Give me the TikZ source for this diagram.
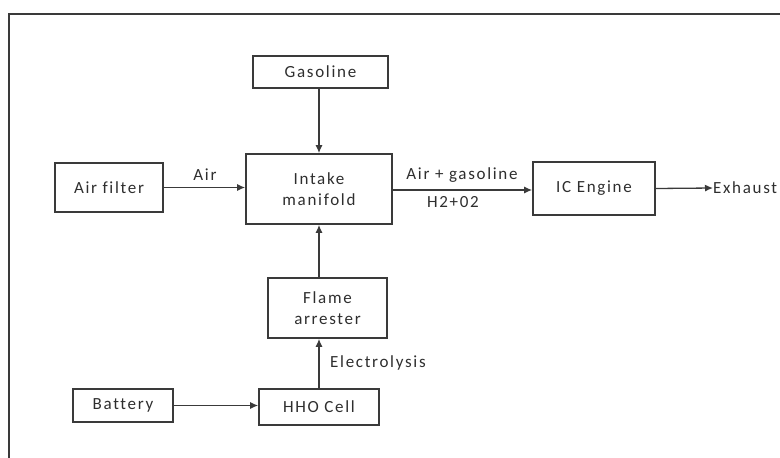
\documentclass[tikz,border=0pt]{standalone}
\usepackage{fontspec}
\setmainfont{Carlito}[LetterSpace=10,Ligatures=NoCommon]
\usetikzlibrary{arrows.meta}
\definecolor{ln}{HTML}{3A3A3A}
\definecolor{tx}{HTML}{2E2E2E}
\begin{document}
\begin{tikzpicture}[x=1pt,y=-1pt,
  blk/.style={draw=ln,line width=1.6pt,minimum width=#1,inner sep=0pt,align=center,font=\fontsize{17}{21}\selectfont,text=tx},
  lbl/.style={font=\fontsize{17}{20}\selectfont,text=tx,inner sep=0pt},
  arr/.style={draw=ln,line width=1.3pt,-{Latex[length=8pt,width=7pt]}}]
\useasboundingbox (0,0) rectangle (780,458);
\draw[line width=2.2pt,color=ln] (9,460) -- (9,14) -- (782,14);
\node[blk=135pt,minimum height=32pt] (gas) at (320.5,72) {Gasoline};
\node[blk=146pt,minimum height=70pt] (intake) at (319,189) {Intake\\manifold};
\node[blk=108pt,minimum height=49pt] (filter) at (109,187.5) {Air filter};
\node[blk=122pt,minimum height=53pt] (engine) at (594,188.5) {IC Engine};
\node[blk=119pt,minimum height=60pt] (flame) at (327.5,308) {Flame\\arrester};
\node[blk=100pt,minimum height=33pt] (battery) at (123,405.5) {Battery};
\node[blk=120pt,minimum height=36pt] (hho) at (319,407) {HHO Cell};
\coordinate (ex) at (713,188);
\node[lbl,anchor=west] (exhaust) at (ex) {Exhaust};
\draw[arr] (filter.east) -- (filter.east -| intake.west);
\draw[arr] ([yshift=-1pt]intake.east) -- ([yshift=-1pt]intake.east -| engine.west);
\draw[arr] (engine.east) -- (ex);
\draw[arr] (gas.south -| intake.north) -- (intake.north);
\draw[arr] (flame.north -| intake.south) -- (intake.south);
\draw[arr] (hho.north) -- (hho.north |- flame.south);
\draw[arr] (battery.east) -- (battery.east -| hho.west);
\node[lbl] (airl) at (205,175) {Air};
\node[lbl] (agl) at (462,175) {Air + gasoline};
\node[lbl] (h2l) at (453,202) {H2+02};
\node[lbl,anchor=west] (ell) at (330,363) {Electrolysis};
\end{tikzpicture}
\end{document}
